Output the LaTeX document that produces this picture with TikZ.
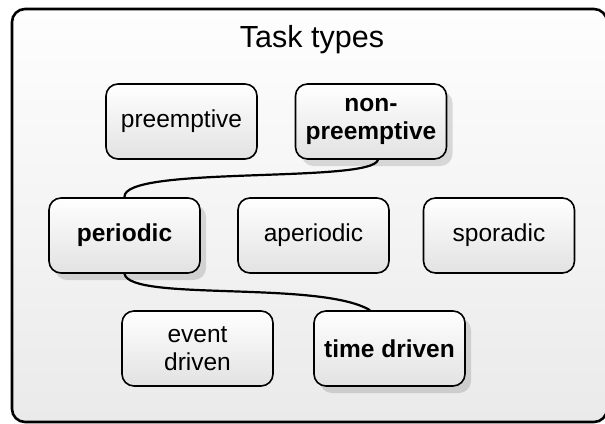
\documentclass[tikz,border=0pt]{standalone}
\usepackage{fontspec}
\setmainfont{Liberation Sans}
\usetikzlibrary{shadows}

\definecolor{paneltop}{HTML}{FEFEFE}
\definecolor{panelbot}{HTML}{EAEAEA}
\definecolor{boxtop}{HTML}{FFFFFF}
\definecolor{boxbot}{HTML}{E2E2E2}

\tikzset{
  task/.style={draw=black, line width=1.6pt, rounded corners=12pt,
    top color=boxtop, bottom color=boxbot,
    minimum width=151pt, minimum height=75pt, inner sep=2pt,
    align=center, font=\fontsize{24.5}{28.5}\selectfont},
  keytask/.style={task, font=\fontsize{24.5}{28.5}\selectfont\bfseries,
    drop shadow={shadow xshift=6pt, shadow yshift=-7pt, fill=black, opacity=0.13}},
  link/.style={draw=black, line width=2.2pt}
}

\begin{document}
\begin{tikzpicture}[x=1pt, y=-1pt]
  \useasboundingbox (0,0) rectangle (605,423);
  \fill[white] (0,0) rectangle (605,423);
  \begin{scope}
    \clip (0,0) rectangle (605,423);
    % outer panel
    \draw[line width=2.6pt, rounded corners=13pt, top color=paneltop, bottom color=panelbot]
      (12,9) rectangle (607,422);
  \end{scope}

  \node[anchor=base, font=\fontsize{30.5}{34}\selectfont] (title) at (312,47) {Task types};

  \node[task]    (pre)  at (181.5,121.5) {preemptive};
  \node[keytask] (npre) at (371,121.5)   {non-\\preemptive};

  \node[keytask] (per)  at (124.5,235.5) {periodic};
  \node[task]    (aper) at (313.5,235.5) {aperiodic};
  \node[task]    (spor) at (499,235.5)   {sporadic};

  \node[task]    (evt)  at (197.5,348.5) {event\\driven};
  \node[keytask] (tim)  at (389.5,348.5) {time driven};

  % connectors
  \draw[link] ([xshift=7pt]npre.south) .. controls +(-6,24) and +(-3,-32) .. (per.north);
  \draw[link] (per.south) .. controls +(5,28) and +(-50,-30) .. ([xshift=-19.5pt]tim.north);
\end{tikzpicture}
\end{document}
